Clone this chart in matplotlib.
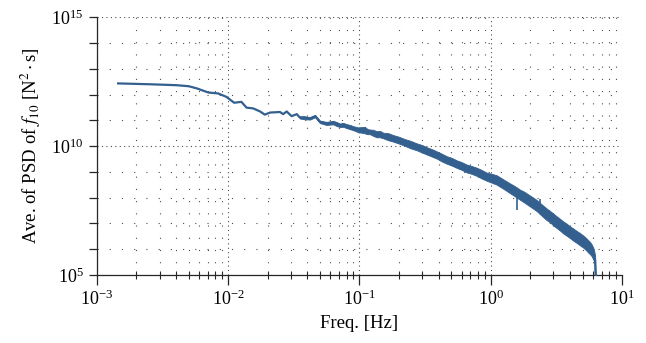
import numpy as np
import matplotlib
matplotlib.use("Agg")
import matplotlib.pyplot as plt
from matplotlib.ticker import LogLocator, FixedLocator, NullFormatter

plt.rcParams["font.family"] = "serif"
plt.rcParams["font.serif"] = ["Liberation Serif", "DejaVu Serif"]
plt.rcParams["mathtext.fontset"] = "stix"

LINE = "#33608f"

# ── low-frequency part (thin line) ────────────────────────────────────
freq_a = [1.45e-3, 2.54e-3, 4.05e-3, 5.0e-3, 5.75e-3, 7.05e-3, 8.4e-3, 9.7e-3,
          1.11e-2, 1.26e-2, 1.38e-2, 1.55e-2, 1.75e-2, 1.9e-2, 2.08e-2,
          2.48e-2, 2.62e-2, 2.79e-2, 3.04e-2, 3.33e-2]
psd_a = [2.7e12, 2.5e12, 2.3e12, 2.1e12, 1.74e12, 1.2e12, 1.1e12, 8.1e11,
         4.8e11, 5.2e11, 3.1e11, 2.9e11, 2.2e11, 1.66e11, 2.0e11,
         2.1e11, 1.74e11, 2.2e11, 1.45e11, 1.74e11]

# ── noisy part: centre and envelope of the band ───────────────────────
freq_n = [0.035, 0.038, 0.042, 0.046, 0.050, 0.056, 0.063, 0.067, 0.071, 0.075,
          0.080, 0.085, 0.090, 0.098, 0.104, 0.110, 0.115, 0.120, 0.127, 0.135,
          0.143, 0.152, 0.165, 0.180, 0.200, 0.220, 0.245, 0.273, 0.300, 0.330,
          0.357, 0.387, 0.420, 0.460, 0.505, 0.551, 0.600, 0.650, 0.715, 0.782,
          0.850, 0.930, 1.02, 1.11, 1.25, 1.40, 1.50, 1.58, 1.67, 1.80,
          1.95, 2.10, 2.24, 2.37, 2.50, 2.65, 2.83, 3.00, 3.20, 3.38,
          3.57, 3.80, 4.02, 4.25, 4.50, 4.80, 5.07, 5.30, 5.50, 5.70,
          5.87, 6.10, 6.23, 6.30]
psd_mid = [1.3e11, 1.25e11, 1.18e11, 1.45e11, 8.7e10, 7.6e10, 8.0e10, 7.2e10, 6.5e10, 6.6e10,
           6.0e10, 5.4e10, 4.9e10, 4.2e10, 4.3e10, 3.9e10, 3.8e10, 3.6e10, 3.2e10, 2.9e10,
           2.8e10, 2.6e10, 2.3e10, 2.0e10, 1.7e10, 1.4e10, 1.15e10, 9.3e9, 7.8e9, 6.5e9,
           5.5e9, 4.5e9, 3.7e9, 3.0e9, 2.5e9, 2.0e9, 1.7e9, 1.4e9, 1.2e9, 1.0e9,
           8.2e8, 6.6e8, 5.7e8, 4.8e8, 3.4e8, 2.3e8, 1.9e8, 1.6e8, 1.3e8, 1.05e8,
           8.0e7, 6.2e7, 4.9e7, 3.8e7, 3.0e7, 2.3e7, 1.8e7, 1.4e7, 1.1e7, 8.8e6,
           7.0e6, 5.6e6, 4.6e6, 3.7e6, 3.0e6, 2.4e6, 1.95e6, 1.6e6, 1.3e6, 1.1e6,
           9.3e5, 6.0e5, 3.8e5, 5e4]
psd_hi = [1.43e11, 1.45e11, 1.32e11, 1.6e11, 9.7e10, 8.7e10, 9.6e10, 8.6e10, 7.5e10, 8.0e10,
          7.1e10, 6.6e10, 5.9e10, 5.3e10, 5.5e10, 5.6e10, 4.6e10, 4.4e10, 4.3e10, 3.8e10,
          3.9e10, 3.3e10, 3.2e10, 2.7e10, 2.3e10, 1.9e10, 1.6e10, 1.28e10, 1.1e10, 8.8e9,
          7.6e9, 6.3e9, 5.2e9, 4.1e9, 3.5e9, 2.8e9, 2.4e9, 1.96e9, 1.7e9, 1.45e9,
          1.2e9, 9.4e8, 8.4e8, 7.4e8, 5.1e8, 3.6e8, 2.95e8, 2.5e8, 2.05e8, 1.7e8,
          1.3e8, 1.02e8, 8.1e7, 6.3e7, 5.0e7, 3.9e7, 3.05e7, 2.4e7, 1.85e7, 1.5e7,
          1.2e7, 9.7e6, 7.7e6, 6.4e6, 5.2e6, 4.2e6, 3.4e6, 2.8e6, 2.3e6, 1.9e6,
          1.55e6, 1.0e6, 5.6e5, 5e4]
psd_lo = [1.18e11, 1.1e11, 1.07e11, 1.32e11, 7.8e10, 6.6e10, 7.0e10, 6.0e10, 5.5e10, 5.6e10,
          5.0e10, 4.5e10, 4.1e10, 3.45e10, 3.3e10, 3.1e10, 2.9e10, 2.9e10, 2.5e10, 2.2e10,
          2.2e10, 2.0e10, 1.7e10, 1.5e10, 1.25e10, 1.04e10, 8.2e9, 6.9e9, 5.6e9, 4.6e9,
          3.9e9, 3.3e9, 2.6e9, 2.1e9, 1.75e9, 1.43e9, 1.2e9, 9.7e8, 8.4e8, 7.0e8,
          5.6e8, 4.55e8, 3.8e8, 3.2e8, 2.2e8, 1.5e8, 1.2e8, 1.0e8, 8.3e7, 6.5e7,
          4.9e7, 3.8e7, 3.0e7, 2.3e7, 1.8e7, 1.38e7, 1.1e7, 8.3e6, 6.5e6, 5.2e6,
          4.1e6, 3.3e6, 2.7e6, 2.15e6, 1.78e6, 1.4e6, 1.15e6, 9.4e5, 7.6e5, 6.4e5,
          5.4e5, 3.5e5, 2.2e5, 5e4]

# isolated spikes sticking out of the band
spike_f = [1.58, 2.37]
spike_top = [1.6e8, 8.8e7]
spike_bot = [3.2e7, 3.8e7]

fig = plt.figure(figsize=(6.46, 3.43), dpi=100)
ax = fig.add_axes([0.150, 0.198, 0.813, 0.752])

ax.fill_between(freq_n, psd_lo, psd_hi, color=LINE, lw=0.6, zorder=3)
ax.plot(freq_a + freq_n, psd_a + psd_mid, color=LINE, lw=1.6, zorder=4)
ax.vlines(spike_f, spike_bot, spike_top, color=LINE, lw=1.2, zorder=4)

ax.set_xscale("log")
ax.set_yscale("log")
ax.set_xlim(1e-3, 1e1)
ax.set_ylim(1e5, 1e15)

ax.xaxis.set_major_locator(LogLocator(base=10, numticks=20))
ax.xaxis.set_minor_locator(LogLocator(base=10, subs=np.arange(2, 10), numticks=20))
ax.xaxis.set_minor_formatter(NullFormatter())
ax.yaxis.set_major_locator(FixedLocator([1e5, 1e10, 1e15]))
ax.yaxis.set_minor_locator(FixedLocator([1e6, 1e7, 1e8, 1e9, 1e11, 1e12, 1e13, 1e14]))
ax.yaxis.set_minor_formatter(NullFormatter())

for s in ["top", "right"]:
    ax.spines[s].set_visible(False)
for s in ["left", "bottom"]:
    ax.spines[s].set_linewidth(0.9)
    ax.spines[s].set_color("0.15")

ax.tick_params(axis="both", which="major", labelsize=13, color="0.15", width=0.9)
ax.tick_params(axis="x", which="major", direction="out", length=7)
ax.tick_params(axis="x", which="minor", direction="inout", length=6, width=0.8, color="0.15")
ax.tick_params(axis="y", which="both", direction="out", length=6, width=0.9, color="0.15")

ax.set_axisbelow(True)
ax.grid(True, which="major", color="0.3", lw=0.8, linestyle=(0, (1, 3)))
ax.grid(True, which="minor", color="0.3", lw=0.8, linestyle=(0, (1, 10)))

ax.set_xlabel("Freq. [Hz]", fontsize=13.5, labelpad=4)
ax.set_ylabel(r"Ave. of PSD of $f_{10}$ [N$^2\cdot$s]", fontsize=13.5, labelpad=6)

fig.savefig("out.png", dpi=100)
